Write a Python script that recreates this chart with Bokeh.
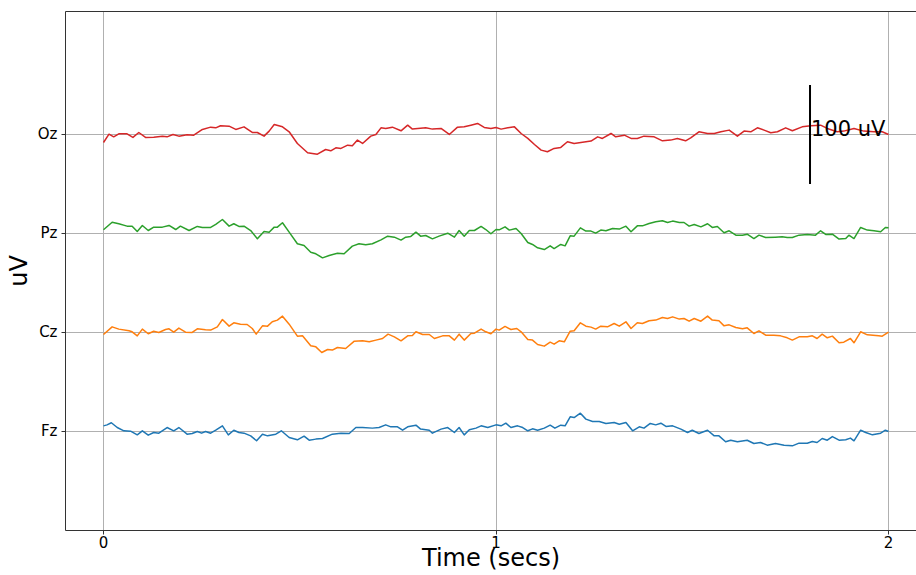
from bokeh.plotting import figure
from bokeh.models import Range1d, FixedTicker, LinearAxis
from bokeh.embed import file_html
from bokeh.resources import INLINE
from bokeh.core.properties import value

channels = ["Fz", "Cz", "Pz", "Oz"]
offsets_uv = [0, 100, 200, 300]
colors = ["#1f77b4", "#ff7f0e", "#2ca02c", "#d62728"]
x_ticks = [0, 1, 2]
scale_time = 1.8
scale_uv = 100
scale_label = "100 uV"
x_label = "Time (secs)"
y_label = "uV"

fz_t = [0.000,0.009,0.020,0.035,0.052,0.069,0.086,0.099,0.114,0.128,
        0.141,0.162,0.179,0.192,0.213,0.226,0.239,0.250,0.260,0.273,
        0.286,0.303,0.318,0.332,0.345,0.358,0.375,0.390,0.405,0.418,
        0.439,0.453,0.473,0.494,0.511,0.524,0.541,0.558,0.583,0.605,
        0.626,0.643,0.660,0.685,0.702,0.719,0.732,0.749,0.762,0.775,
        0.796,0.808,0.830,0.838,0.860,0.877,0.894,0.906,0.919,0.932,
        0.949,0.962,0.979,1.000,
        1.013,1.025,1.038,1.055,1.068,1.081,1.093,1.106,1.123,1.138,
        1.150,1.165,1.176,1.189,1.199,1.215,1.229,1.246,1.263,1.280,
        1.301,1.314,1.331,1.348,1.365,1.377,1.393,1.407,1.420,1.433,
        1.450,1.471,1.488,1.500,1.517,1.539,1.556,1.568,1.585,1.598,
        1.615,1.640,1.657,1.674,1.691,1.712,1.734,1.755,1.772,1.793,
        1.806,1.818,1.831,1.844,1.857,1.874,1.891,1.903,1.912,1.929,
        1.942,1.959,1.980,1.992,2.000]
fz_uv = [5.7,6.7,8.8,4.0,0.7,0.3,-3.4,0.7,-3.7,-1.0,
         -1.7,4.0,0.7,4.0,-2.7,-2.0,0.0,-1.7,0.0,-1.7,
         1.3,5.7,-3.4,1.3,-1.0,-1.7,-4.4,-9.4,-2.7,-4.4,
         -2.7,0.7,-6.1,-8.4,-4.7,-8.8,-7.7,-7.1,-2.7,-1.7,
         -2.0,4.0,4.0,3.4,4.0,6.7,4.7,4.7,1.3,4.7,
         6.4,2.4,1.3,-1.7,2.4,4.0,-1.0,4.0,-3.4,1.7,
         3.4,5.7,4.0,6.7,
         5.7,8.4,4.0,5.7,4.0,0.7,2.7,1.3,3.4,6.4,
         3.4,6.4,5.7,14.8,14.1,18.5,12.5,10.1,10.1,8.1,
         9.1,7.4,9.1,0.7,4.7,3.4,8.1,6.7,8.4,5.1,
         5.7,2.4,-1.0,1.3,-2.0,1.3,-4.4,-4.4,-10.4,-8.8,
         -10.4,-8.8,-12.1,-11.1,-13.8,-12.1,-13.8,-14.5,-11.8,-11.8,
         -10.1,-11.1,-7.1,-8.8,-5.1,-8.8,-8.4,-6.7,-9.4,1.3,
         -1.0,-3.4,-1.7,1.3,0.0]

cz_t = [0.000,0.022,0.039,0.065,0.073,0.086,0.099,0.114,0.128,0.141,
        0.158,0.167,0.179,0.192,0.209,0.226,0.239,0.260,0.273,0.290,
        0.303,0.320,0.332,0.349,0.366,0.379,0.389,0.405,0.418,0.430,
        0.443,0.456,0.473,0.494,0.507,0.528,0.541,0.556,0.571,0.583,
        0.596,0.617,0.639,0.660,0.677,0.694,0.711,0.725,0.741,0.758,
        0.775,0.787,0.796,0.813,0.830,0.843,0.864,0.881,0.894,0.906,
        0.919,0.936,0.945,0.962,0.974,0.987,1.000,
        1.008,1.023,1.038,1.053,1.064,1.081,1.093,1.106,1.123,1.138,
        1.148,1.161,1.174,1.189,1.199,1.215,1.229,1.242,1.254,1.267,
        1.284,1.301,1.314,1.331,1.344,1.360,1.373,1.390,1.407,1.424,
        1.437,1.450,1.467,1.479,1.492,1.505,1.522,1.539,1.551,1.568,
        1.581,1.594,1.611,1.628,1.640,1.657,1.670,1.687,1.708,1.725,
        1.742,1.755,1.772,1.793,1.806,1.818,1.831,1.844,1.857,1.874,
        1.886,1.903,1.912,1.929,1.946,1.975,1.984,2.000]
cz_uv = [-2.0,5.7,3.4,1.7,0.7,-3.4,3.4,-1.3,1.3,0.0,
         3.0,3.7,0.3,4.4,0.3,0.0,3.7,2.7,2.4,5.7,
         13.1,6.4,9.8,8.4,8.1,4.0,-1.7,6.7,6.4,10.8,
         12.5,16.5,8.4,-3.7,-3.4,-13.5,-14.5,-20.2,-17.2,-17.8,
         -15.2,-16.2,-8.8,-8.4,-9.4,-7.7,-6.1,-1.7,-4.4,-8.4,
         -3.4,-3.0,0.7,-2.0,-2.0,-6.1,-3.4,-3.4,-7.7,-1.7,
         -7.7,-1.0,-0.7,3.4,0.7,-1.3,3.4,
         2.4,6.1,3.0,4.0,0.7,-7.1,-7.7,-12.1,-13.8,-9.8,
         -11.8,-8.4,-9.4,1.3,1.7,9.8,6.4,5.4,3.4,6.4,
         5.7,9.1,6.4,10.8,4.0,9.8,9.1,11.8,12.5,15.2,
         14.1,15.8,13.5,14.1,11.4,14.1,11.4,16.5,12.5,11.8,
         6.7,7.7,5.1,3.7,4.7,-1.0,1.7,-2.7,-2.7,-3.4,
         -5.4,-7.7,-4.4,-4.4,-3.4,-6.1,-1.7,-5.4,-3.7,-10.4,
         -9.8,-6.1,-10.4,0.7,-2.4,-3.4,-3.7,0.3]

pz_t = [0.000,0.022,0.039,0.060,0.073,0.086,0.099,0.114,0.128,0.150,
        0.167,0.184,0.196,0.218,0.239,0.252,0.273,0.286,0.303,0.320,
        0.332,0.345,0.358,0.375,0.392,0.409,0.422,0.435,0.443,0.456,
        0.473,0.494,0.511,0.528,0.541,0.558,0.575,0.596,0.613,0.634,
        0.651,0.668,0.685,0.707,0.724,0.741,0.758,0.770,0.783,0.796,
        0.808,0.821,0.838,0.855,0.877,0.894,0.906,0.919,0.932,0.945,
        0.962,0.974,0.987,1.000,
        1.008,1.023,1.034,1.051,1.064,1.081,1.093,1.106,1.123,1.138,
        1.148,1.165,1.176,1.189,1.199,1.215,1.229,1.242,1.254,1.267,
        1.280,1.297,1.314,1.331,1.344,1.360,1.373,1.390,1.407,1.424,
        1.437,1.450,1.467,1.479,1.492,1.505,1.522,1.539,1.551,1.564,
        1.581,1.594,1.611,1.628,1.640,1.657,1.670,1.687,1.712,1.729,
        1.742,1.755,1.772,1.793,1.814,1.827,1.840,1.857,1.874,1.891,
        1.899,1.912,1.929,1.946,1.963,1.980,1.992,2.000]
pz_uv = [3.7,11.4,9.8,7.4,7.4,2.0,8.1,3.0,6.4,6.4,
         8.1,4.0,7.4,3.0,7.1,6.1,6.1,9.1,14.1,7.4,
         9.8,7.1,7.4,3.0,-5.4,2.0,1.3,6.4,6.4,10.8,
         1.3,-10.4,-12.1,-18.9,-20.5,-24.6,-22.2,-19.9,-20.5,-12.8,
         -10.4,-11.4,-10.4,-6.4,-2.7,-3.7,-6.7,-3.7,-3.0,1.3,
         -2.7,-2.0,-5.4,-2.7,0.3,-3.7,3.0,-2.7,3.0,3.0,
         7.1,4.0,-0.3,4.0,
         3.7,6.7,3.4,5.1,0.0,-9.1,-11.1,-14.5,-16.2,-12.5,
         -15.2,-11.1,-12.5,-2.4,-2.7,5.7,2.4,2.4,0.3,3.4,
         2.7,5.1,4.4,7.4,1.7,7.7,7.7,10.1,11.8,12.8,
         11.1,12.5,11.1,11.1,7.4,9.1,6.7,9.8,6.1,7.1,
         0.7,2.7,-1.7,-1.7,-0.7,-5.1,-1.7,-4.0,-3.7,-3.4,
         -4.0,-4.0,-1.7,-1.0,-1.7,2.7,-1.0,-0.7,-5.7,-5.1,
         -1.7,-5.1,6.1,3.4,2.7,1.7,6.1,5.7]

oz_t = [0.000,0.014,0.026,0.039,0.060,0.075,0.090,0.107,0.128,0.150,
        0.162,0.177,0.192,0.213,0.230,0.252,0.273,0.286,0.298,0.320,
        0.337,0.358,0.379,0.392,0.409,0.422,0.435,0.456,0.473,0.494,
        0.520,0.532,0.545,0.566,0.579,0.592,0.605,0.622,0.634,0.647,
        0.660,0.681,0.694,0.707,0.719,0.736,0.758,0.775,0.787,0.821,
        0.838,0.860,0.881,0.902,0.919,0.936,0.953,0.970,0.987,1.000,
        1.013,1.030,1.047,1.064,1.081,1.098,1.115,1.131,1.148,1.165,
        1.182,1.199,1.242,1.259,1.271,1.293,1.305,1.327,1.344,1.360,
        1.377,1.403,1.424,1.445,1.462,1.483,1.496,1.517,1.539,1.556,
        1.573,1.594,1.615,1.632,1.649,1.666,1.683,1.700,1.717,1.738,
        1.755,1.780,1.802,1.827,1.844,1.869,1.886,1.912,1.937,1.963,
        1.984,2.000]
oz_uv = [-8.1,0.3,-2.4,0.7,0.7,-3.0,2.0,-3.0,-2.7,-1.7,
         -2.4,0.0,-1.7,-0.3,-0.7,5.1,7.4,6.7,8.8,8.4,
         5.1,7.7,2.0,2.0,-1.7,3.4,10.1,7.7,2.7,-9.1,
         -18.5,-19.2,-19.9,-15.2,-16.5,-13.5,-14.1,-10.8,-11.4,-5.7,
         -9.1,-1.7,0.0,6.7,6.1,7.4,3.7,9.4,5.4,6.7,
         5.4,6.1,0.0,7.4,7.7,9.4,11.1,7.1,6.1,7.0,
         5.4,6.7,7.7,1.0,-4.0,-10.1,-15.8,-17.5,-14.1,-13.1,
         -7.4,-9.1,-6.7,-2.4,-4.0,1.0,-2.4,-0.7,-4.0,-4.0,
         -1.7,-2.4,-6.4,-5.7,-4.0,-6.4,-3.4,2.7,1.0,1.0,
         2.7,4.4,-1.7,3.4,2.7,6.7,4.4,1.7,2.7,6.7,
         3.7,7.7,8.8,9.4,6.1,2.7,3.4,6.1,3.4,2.7,
         2.7,0.0]

times = [fz_t, cz_t, pz_t, oz_t]
signals = [fz_uv, cz_uv, pz_uv, oz_uv]

FONT = "DejaVu Sans"

p = figure(width=916, height=575,
           x_range=Range1d(-0.0968, 2.0713), y_range=Range1d(-100, 424.2),
           output_backend="svg", toolbar_location=None,
           min_border_left=65, min_border_right=0,
           min_border_top=11, min_border_bottom=45)
p.outline_line_color = None
p.background_fill_color = "white"
p.border_fill_color = "white"

for t, s, off, c in zip(times, signals, offsets_uv, colors):
    p.line(t, [v + off for v in s], line_color=c, line_width=1.5,
           line_join="round")

# scale bar on the top channel
top = offsets_uv[-1]
p.line([scale_time, scale_time], [top - scale_uv / 2, top + scale_uv / 2],
       line_color="black", line_width=2)
p.text(x=[scale_time], y=[top + 6], text=[scale_label],
       text_font=value(FONT), text_font_size="21px",
       text_color="black", text_align="left", text_baseline="alphabetic",
       x_offset=1)

# axes
xa = p.xaxis[0]
xa.ticker = FixedTicker(ticks=x_ticks)
xa.axis_label = x_label
ya = p.yaxis[0]
ya.ticker = FixedTicker(ticks=offsets_uv)
ya.major_label_overrides = {o: ch for o, ch in zip(offsets_uv, channels)}
ya.axis_label = y_label
for ax in (xa, ya):
    ax.axis_line_color = "#333333"
    ax.axis_line_width = 1
    ax.major_tick_line_color = "#333333"
    ax.major_tick_in = 0
    ax.major_tick_out = 4
    ax.minor_tick_line_color = None
    ax.major_label_text_font = FONT
    ax.major_label_text_font_size = "15px"
    ax.major_label_text_color = "black"
    ax.axis_label_text_font = FONT
    ax.axis_label_text_font_size = "24px"
    ax.axis_label_text_font_style = "normal"
    ax.axis_label_text_color = "black"
xa.major_label_standoff = 1
xa.axis_label_standoff = -7
ya.major_label_standoff = 4
ya.axis_label_standoff = 2

top_axis = LinearAxis(ticker=FixedTicker(ticks=[]), major_tick_out=0,
                      major_tick_in=0, minor_tick_line_color=None,
                      major_label_text_font_size="0px",
                      axis_line_color="#333333")
p.add_layout(top_axis, "above")

p.xgrid.ticker = FixedTicker(ticks=x_ticks)
p.ygrid.ticker = FixedTicker(ticks=offsets_uv)
for g in (p.xgrid, p.ygrid):
    g.grid_line_color = "#b0b0b0"
    g.grid_line_width = 1

open("out.html", "w").write(file_html(p, INLINE))
